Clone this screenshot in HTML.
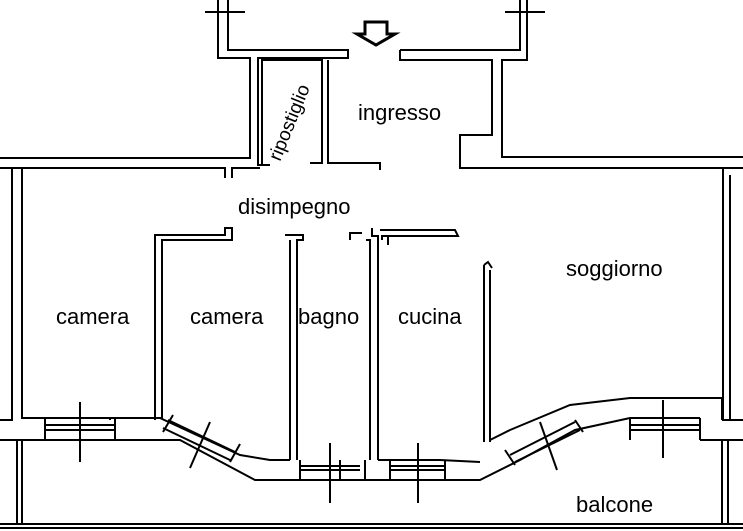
<!DOCTYPE html>
<html><head><style>
html,body{margin:0;padding:0;background:#fff;width:743px;height:531px;overflow:hidden}
svg{display:block}
text{font-family:"Liberation Sans",sans-serif;font-size:22px;fill:#000}
</style></head><body>
<svg width="743" height="531" viewBox="0 0 743 531" xmlns="http://www.w3.org/2000/svg">
<g fill="none" stroke="#000" stroke-width="2">
<path d="M218 0V58H250V158H0"/>
<path d="M228 0V50H348V58H258V165H270"/>
<path d="M205 12H245"/>
<path d="M268 165H262V60H322V163H310"/>
<path d="M335 163H328V60"/>
<path d="M328 163H380V170"/>
<path d="M400 50V60H492V135H460V168H743"/>
<path d="M400 50H520V0"/>
<path d="M527 0V60H502V157H743"/>
<path d="M505 12H545"/>
<path d="M0 168H225V178M232 178V168H260"/>
<path d="M12 168V420H0"/>
<path d="M22 168V418H110"/>
<path d="M155 420V235H225V228H232V240H162V418H110"/>
<path d="M285 235H303V240H297V460M290 240V460"/>
<path d="M350 240V233H362"/>
<path d="M372 228V236H378V460M382 240V236H388V245M380 230H455L458 236L385 236"/>
<path d="M370 460V240H366"/>
<path d="M484 265V442M490 270V442M484 265L488 262L492 268"/>
<path d="M723 168V420H743M730 175V420"/>
<path d="M22 418H110V420M160 418L240 455L270 460H290"/>
<path d="M15 440H115L180 440L255 480H340V460"/>
<path d="M378 460H440L480 462M340 480H480L520 460L575 430L630 418H700"/>
<path d="M490 440L510 430L570 405L630 398H722V420"/>
<path d="M0 440H15M700 440H743"/>
<path d="M45 418V440M115 418V440M45 425H115M45 430H115"/>
<path d="M630 418V440M700 418V440M630 425H700M630 430H700"/>
<path d="M168 420L235 452M163 428L230 460M173 415L163 432M240 444L230 462"/>
<path d="M510 455L575 422M515 462L580 430M505 450L515 465M575 420L583 432"/>
<path d="M300 460V480M365 460V480M300 466H360M300 470H360"/>
<path d="M390 460V480M445 460V480M390 466H445M390 470H445"/>
<path d="M80 402V462M210 422L190 468M663 400V458M540 422L557 470M330 443V503M418 443V503"/>
<path d="M17 440V525M22 440V525M722 440V525M728 440V525"/>
<path d="M0 524H743"/>
<path d="M0 528H743"/>
</g>
<path d="M365 22H387V34H395L376 45L357 34H365Z" fill="#fff" stroke="#000" stroke-width="3"/>
<text x="358" y="120">ingresso</text>
<text x="238" y="214">disimpegno</text>
<text x="566" y="276">soggiorno</text>
<text x="56" y="324">camera</text>
<text x="190" y="324">camera</text>
<text x="298" y="324">bagno</text>
<text x="398" y="324">cucina</text>
<text x="576" y="512">balcone</text>
<text transform="translate(280 162) rotate(-68)" style="font-size:19px">ripostiglio</text>
</svg>
</body></html>
